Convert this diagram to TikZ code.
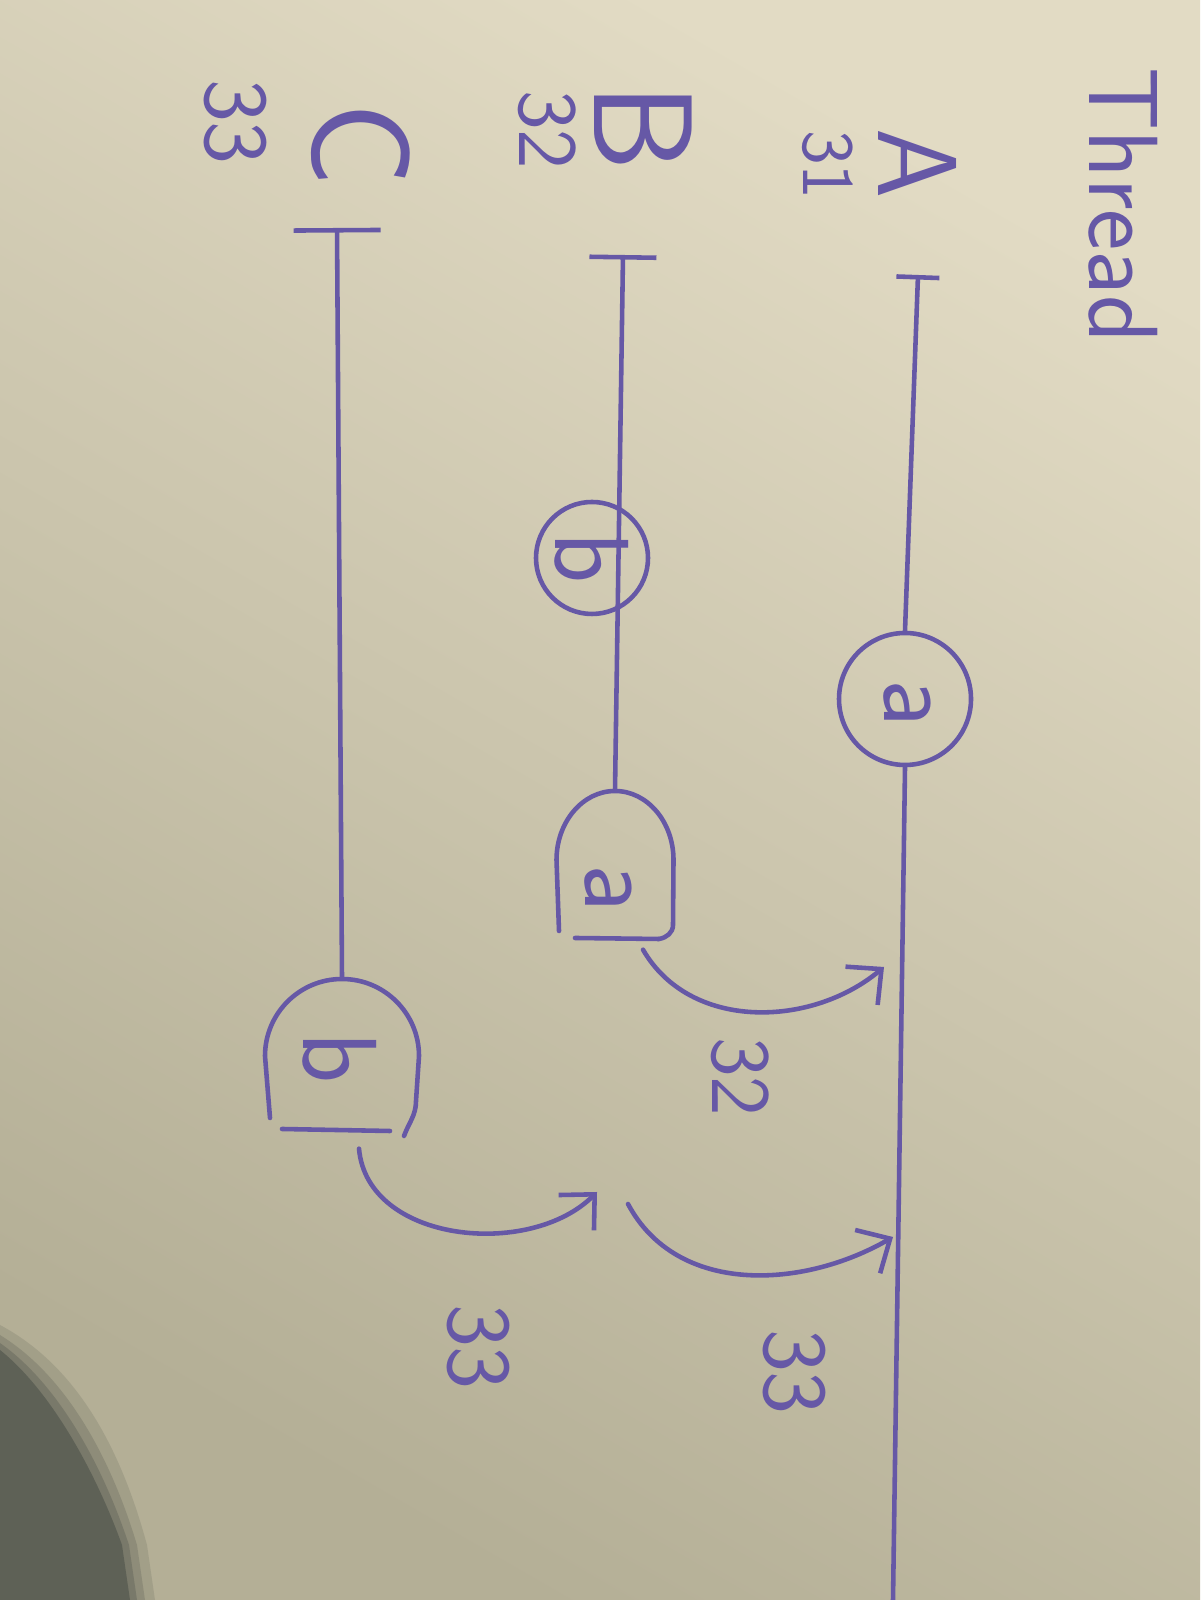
\documentclass[tikz,border=0pt]{standalone}
\usepackage{tikz}
\usetikzlibrary{arrows.meta, positioning}

\definecolor{ink}{RGB}{102,88,166}
\definecolor{paperhi}{RGB}{226,219,196}
\definecolor{paperlo}{RGB}{180,175,150}
\definecolor{shadowc}{RGB}{62,68,62}

\tikzset{
  pen/.style={draw=ink, line width=1.3pt, line cap=round},
  lettr/.style={text=ink, font=\sffamily\fontsize{30}{30}\selectfont, rotate=-90, inner sep=0pt},
  tag/.style={text=ink, font=\sffamily\fontsize{24}{24}\selectfont, rotate=-90, inner sep=0pt},
  bead/.style={circle, draw=ink, line width=1.3pt, inner sep=0pt},
  hop/.style={pen, -{Straight Barb[length=2.6mm, width=5mm, line width=1.3pt]}},
}

\begin{document}
\begin{tikzpicture}[x=1cm, y=1cm]
  \useasboundingbox (0,0) rectangle (12,16);

  % Paper
  \shade[top color=paperhi, bottom color=paperlo, shading angle=-30] (0,0) rectangle (12,16);
  \foreach \s/\o in {0.25/0.15, 0.15/0.2, 0.07/0.25, 0/0.45} {
    \fill[shadowc, opacity=\o] (0,2.5+\s) .. controls (0.5+\s,2.1+\s) and (0.95+\s,1.3+\s) .. (1.22+\s,0.55) -- (1.3+\s,0) -- (0,0) -- cycle;
  }

  % Title and thread names
  \node[tag, font=\sffamily\fontsize{28}{28}\selectfont] (title) at (11.23,13.95) {Thread};
  \node[tag, font=\sffamily\fontsize{32}{32}\selectfont] (nameA) at (9.18,14.36) {A};
  \node[tag, font=\sffamily\fontsize{21}{21}\selectfont] (idA) at (8.28,14.35) {31};
  \node[tag, font=\sffamily\fontsize{40}{40}\selectfont] (nameB) at (6.43,14.72) {B};
  \node[tag] (idB) at (5.47,14.70) {32};
  \node[tag, font=\sffamily\fontsize{40}{40}\selectfont] (nameC) at (3.61,14.55) {C};
  \node[tag, font=\sffamily\fontsize{26}{26}\selectfont] (idC) at (2.35,14.78) {33};

  % Thread starts and ends
  \coordinate (Atop) at (9.18,13.25);
  \coordinate (Abot) at (8.93,0);
  \coordinate (Btop) at (6.23,13.45);
  \coordinate (Ctop) at (3.37,13.72);

  % Locks
  \node[bead, minimum size=1.32cm] (Aa) at (9.05,9.01) {};
  \node[lettr] (Aal) at (9.07,8.97) {a};
  \node[minimum width=1.17cm, minimum height=1.48cm, inner sep=0pt] (Ba) at (6.15,7.35) {};
  \node[lettr] (Bal) at (6.08,7.12) {a};
  \node[minimum width=1.54cm, minimum height=1.54cm, inner sep=0pt] (Cb) at (3.42,5.44) {};
  \node[lettr] (Cbl) at (3.40,5.42) {b};

  % Thread lines
  \draw[pen, {Bar[width=4.3mm, line width=1.3pt]}-] (Atop) -- (Aa.north);
  \draw[pen] (Aa.south) -- (Abot);
  \draw[pen, {Bar[width=6.7mm, line width=1.3pt]}-] (Btop) -- (Ba.north);
  \draw[pen, {Bar[width=8.7mm, line width=1.3pt]}-] (Ctop) -- (Cb.north);

  % Crossed lock on B
  \node[bead, minimum size=1.12cm] (Bb) at (5.92,10.42) {};
  \node[lettr] (Bbl) at (5.92,10.42) {b};

  % Waiting locks
  \draw[pen, shift={(Ba.center)}] (-0.56,-0.66) -- (-0.585,0.05)
    arc[start angle=180, end angle=0, x radius=0.585, y radius=0.69]
    -- (0.58,-0.6) to[out=-90, in=10] (0.44,-0.74);
  \draw[pen, shift={(Ba.center)}] (0.44,-0.74) -- (-0.4,-0.73);
  \draw[pen, shift={(Cb.center)}] (-0.72,-0.62) -- (-0.77,0)
    arc[start angle=180, end angle=0, x radius=0.77, y radius=0.77]
    -- (0.74,-0.45) to[out=-90, in=70] (0.62,-0.8);
  \draw[pen, shift={(Cb.center)}] (-0.6,-0.73) -- (0.48,-0.75);

  % Hand-offs
  \coordinate (Ain) at (8.84,6.33);
  \coordinate (hopin) at (5.97,4.08);
  \coordinate (hopout) at (6.28,3.96);
  \coordinate (Ain2) at (8.93,3.63);

  \draw[hop] ([xshift=2.8mm, yshift=-1mm]Ba.south) to[out=-60, in=-140] (Ain);
  \draw[hop] ([xshift=1.7mm, yshift=-1.5mm]Cb.south) to[out=-85, in=-135] (hopin);
  \draw[hop] (hopout) to[out=-62, in=-150] (Ain2);

  \node[tag] (wait1) at (7.40,5.23) {32};
  \node[tag, font=\sffamily\fontsize{26}{26}\selectfont] (wait2) at (4.78,2.53) {33};
  \node[tag, font=\sffamily\fontsize{26}{26}\selectfont] (wait3) at (7.94,2.28) {33};
\end{tikzpicture}
\end{document}
